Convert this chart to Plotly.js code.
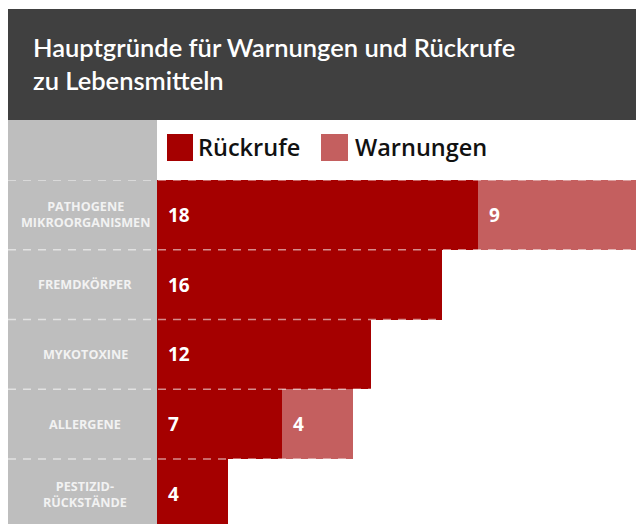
<!DOCTYPE html>
<html>
<head>
<meta charset="utf-8">
<script src="https://cdn.plot.ly/plotly-3.0.1.min.js"></script>
<style>html,body{margin:0;padding:0;background:#fff;}#chart{width:636px;height:524px;}</style>
</head>
<body>
<div id="chart"></div>
<script>
// ---- data ----
const categories = ["PATHOGENE<br>MIKROORGANISMEN", "FREMDKÖRPER", "MYKOTOXINE", "ALLERGENE", "PESTIZID-<br>RÜCKSTÄNDE"];
const recalls = [18, 16, 12, 7, 4];
const warnings = [9, 0, 0, 4, 0];
const seriesNames = ["Rückrufe", "Warnungen"];
const titleText = "Hauptgründe für Warnungen und Rückrufe<br>zu Lebensmitteln";

// ---- styling / layout helpers ----
const W = 636, H = 524;
const L = 157, T = 180;
const PW = W - L, PH = H - T;
const px2x = p => (p - L) / PW;
const px2y = p => (H - p) / PH;
const RED = "#a50000", PINK = "#c45f5f", DARK = "#404040", GREY = "#bebebe";
const FONT = "Open Sans, Noto Sans, sans-serif";
const TFONT = "Lato, Open Sans, sans-serif";

const traces = [
  {type: "bar", orientation: "h", name: seriesNames[0], y: categories, x: recalls,
   marker: {color: RED, line: {width: 0}}, hoverinfo: "none"},
  {type: "bar", orientation: "h", name: seriesNames[1], y: categories, x: warnings,
   marker: {color: PINK, line: {width: 0}}, hoverinfo: "none"}
];

const shapes = [
  {type: "rect", xref: "paper", yref: "paper", x0: px2x(8), x1: 1, y0: px2y(120), y1: px2y(9),
   fillcolor: DARK, line: {width: 0}, layer: "below"},
  {type: "rect", xref: "paper", yref: "paper", x0: px2x(8), x1: 0, y0: 0, y1: px2y(120),
   fillcolor: GREY, line: {width: 0}, layer: "below"},
  {type: "rect", xref: "paper", yref: "paper", x0: px2x(167), x1: px2x(193), y0: px2y(161), y1: px2y(134),
   fillcolor: RED, line: {width: 0}},
  {type: "rect", xref: "paper", yref: "paper", x0: px2x(321), x1: px2x(348), y0: px2y(161), y1: px2y(134),
   fillcolor: PINK, line: {width: 0}}
];
for (let i = 0; i < categories.length; i++) {
  shapes.push({type: "line", xref: "paper", yref: "y", x0: px2x(8), x1: 1, y0: i - 0.5, y1: i - 0.5,
    line: {color: "rgba(255,255,255,0.55)", width: 1.5, dash: "8px,7px"}});
}

const annotations = [];
categories.forEach((c, i) => {
  annotations.push({xref: "paper", yref: "y", x: px2x(85), y: i, text: c, showarrow: false,
    xanchor: "center", yanchor: "middle", align: "center",
    font: {family: FONT, size: 12.6, color: "#f2f2f2", weight: 700}});
  if (recalls[i] > 0) annotations.push({xref: "x", yref: "y", x: 0, y: i, text: String(recalls[i]),
    showarrow: false, xanchor: "left", yanchor: "middle", xshift: 9,
    font: {family: FONT, size: 19, color: "#ffffff", weight: 700}});
  if (warnings[i] > 0) annotations.push({xref: "x", yref: "y", x: recalls[i], y: i, text: String(warnings[i]),
    showarrow: false, xanchor: "left", yanchor: "middle", xshift: 9,
    font: {family: FONT, size: 19, color: "#ffffff", weight: 700}});
});
annotations.push({xref: "paper", yref: "paper", x: px2x(196), y: px2y(147.5), text: seriesNames[0],
  showarrow: false, xanchor: "left", yanchor: "middle",
  font: {family: FONT, size: 23.5, color: "#111111", weight: 600}});
annotations.push({xref: "paper", yref: "paper", x: px2x(353), y: px2y(147.5), text: seriesNames[1],
  showarrow: false, xanchor: "left", yanchor: "middle",
  font: {family: FONT, size: 23.5, color: "#111111", weight: 600}});

const layout = {
  width: W, height: H,
  margin: {l: L, r: 0, t: T, b: 0, pad: 0},
  paper_bgcolor: "#ffffff", plot_bgcolor: "rgba(0,0,0,0)",
  barmode: "stack", bargap: 0,
  showlegend: false,
  title: {text: titleText, xref: "container", yref: "container", x: 33 / W, xanchor: "left",
    y: 1 - 57 / H, yanchor: "top",
    font: {family: TFONT, size: 25.5, color: "#ffffff", weight: 600}},
  xaxis: {range: [0, 26.9], visible: false, fixedrange: true},
  yaxis: {type: "category", categoryorder: "array", categoryarray: categories,
    range: [4.43, -0.5], showticklabels: false, showgrid: false, zeroline: false, showline: false, ticks: ""},
  shapes: shapes,
  annotations: annotations
};

Plotly.newPlot("chart", traces, layout, {displayModeBar: false, staticPlot: true});
</script>
</body>
</html>
